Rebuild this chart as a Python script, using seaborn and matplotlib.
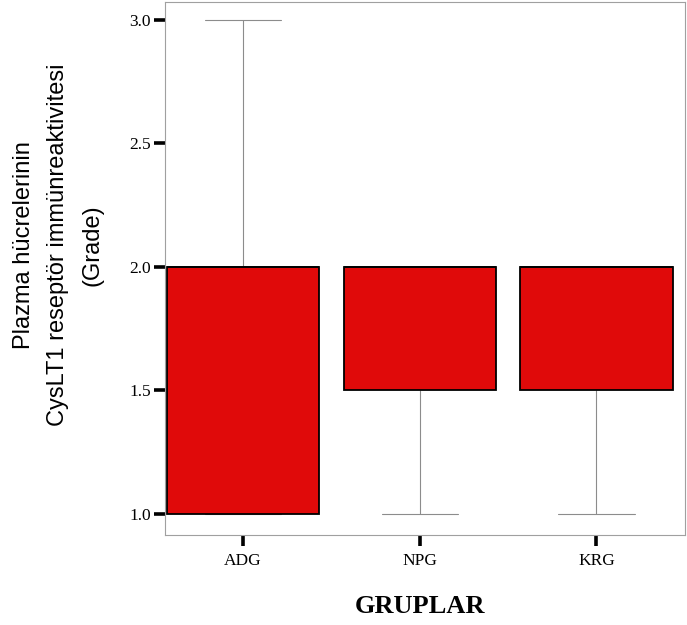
import matplotlib
matplotlib.use("Agg")
import matplotlib.pyplot as plt
import numpy as np
import pandas as pd
import seaborn as sns

# Grade scores per group
groups = ["ADG", "NPG", "KRG"]
adg_grades = [1, 1, 1, 2, 2, 2, 3]
npg_grades = [1, 1, 2, 2, 2, 2, 2]
krg_grades = [1, 1, 2, 2, 2, 2, 2]
y_ticks = [1.0, 1.5, 2.0, 2.5, 3.0]
y_ticklabels = ["1.0", "1.5", "2.0", "2.5", "3.0"]

df = pd.DataFrame({
    "grup": ["ADG"] * len(adg_grades) + ["NPG"] * len(npg_grades) + ["KRG"] * len(krg_grades),
    "grade": adg_grades + npg_grades + krg_grades,
})

sns.set_style("white")
plt.rcParams["text.color"] = "black"

fig = plt.figure(figsize=(6.87, 6.25), dpi=100)
ax = fig.add_axes([0.240, 0.144, 0.757, 0.853])

red = "#e00a0a"
sns.boxplot(
    data=df, x="grup", y="grade", order=groups, ax=ax,
    color=red, saturation=1, width=0.86, whis=1.5,
    linecolor="black", linewidth=1.3, showfliers=False,
    whiskerprops={"color": "#8c8c8c", "linewidth": 0.8, "zorder": 1},
    capprops={"color": "#8c8c8c", "linewidth": 0.8, "zorder": 1},
    medianprops={"color": "black", "linewidth": 1.3},
)

ax.set_xlim(-0.44, 2.5)
ax.set_ylim(0.915, 3.073)
ax.set_yticks(y_ticks)
ax.set_yticklabels(y_ticklabels)

for s in ax.spines.values():
    s.set_visible(True)
    s.set_color("#a0a0a0")
    s.set_linewidth(0.8)

ax.tick_params(axis="both", which="major", direction="out", length=8,
               width=2.6, color="black", pad=2, labelcolor="black",
               left=True, bottom=True)
ax.tick_params(axis="x", pad=5)
for lab in ax.get_xticklabels() + ax.get_yticklabels():
    lab.set_family("Liberation Serif")
    lab.set_fontsize(12.5)

ax.set_xlabel("")
ax.set_ylabel("")

fig.text(0.611, 0.029, "GRUPLAR", family="Liberation Serif", fontweight="bold",
         fontsize=19, ha="center", va="center", color="black")
fig.text(0.085, 0.608,
         "Plazma hücrelerinin\nCysLT1 reseptör immünreaktivitesi\n(Grade)",
         family="Liberation Sans", fontsize=17, rotation=90, color="black",
         ha="center", va="center", multialignment="center", linespacing=1.7)

fig.savefig("out.png", dpi=100)
